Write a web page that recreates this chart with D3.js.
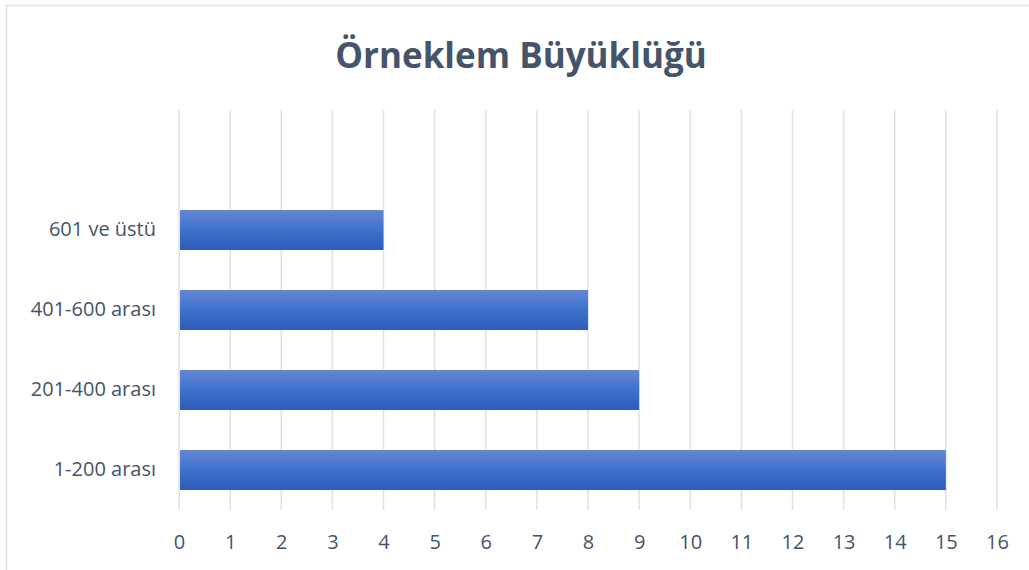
<!DOCTYPE html>
<html>
<head>
<meta charset="utf-8">
<title>Örneklem Büyüklüğü</title>
<script src="https://d3js.org/d3.v7.min.js"></script>
<style>
body { margin:0; background:#fff; font-family:'Open Sans', sans-serif; }
</style>
</head>
<body>
<svg id="chart" width="1029" height="570"></svg>
<script>
// data
var categories = ["1-200 arası", "201-400 arası", "401-600 arası", "601 ve üstü"];
var values = [15, 9, 8, 4];
var tickValues = d3.range(0, 17);

var svg = d3.select("#chart");

// chart frame
svg.append("rect")
  .attr("x", 6.5).attr("y", 5.5)
  .attr("width", 1040).attr("height", 580)
  .attr("fill", "#fff")
  .attr("stroke", "#dde1e8").attr("stroke-width", 1.5);

var defs = svg.append("defs");
var grad = defs.append("linearGradient")
  .attr("id", "barGrad").attr("x1", 0).attr("y1", 0).attr("x2", 0).attr("y2", 1);
grad.append("stop").attr("offset", "0%").attr("stop-color", "#6488d3");
grad.append("stop").attr("offset", "50%").attr("stop-color", "#3f70cc");
grad.append("stop").attr("offset", "100%").attr("stop-color", "#2d5dbb");

var x = d3.scaleLinear().domain([0, 16]).range([179, 997]);
var y = d3.scaleBand().domain(categories).range([510, 190])
  .paddingInner(0.5).paddingOuter(0.25);

var gridTop = 110, gridBottom = 510;

// vertical gridlines
svg.append("g").selectAll("line")
  .data(tickValues)
  .enter().append("line")
    .attr("x1", function(d) { return x(d); })
    .attr("x2", function(d) { return x(d); })
    .attr("y1", gridTop).attr("y2", gridBottom)
    .attr("stroke", "#dfe2e8").attr("stroke-width", 1.5);

// bars
svg.append("g").selectAll("rect")
  .data(values)
  .enter().append("rect")
    .attr("x", x(0) + 1)
    .attr("y", function(d, i) { return y(categories[i]); })
    .attr("width", function(d) { return x(d) - x(0) - 1; })
    .attr("height", y.bandwidth())
    .attr("fill", "url(#barGrad)");

// x axis labels
var xAxis = d3.axisBottom(x).tickValues(tickValues).tickSize(0).tickPadding(0);
var gx = svg.append("g").attr("transform", "translate(0," + 535 + ")").call(xAxis);
gx.select(".domain").remove();
gx.selectAll("text")
  .attr("dy", "0.71em")
  .style("font-family", "'Open Sans', sans-serif")
  .style("font-size", "20px")
  .attr("fill", "#44546a");

// y axis labels
var yAxis = d3.axisLeft(y).tickSize(0).tickPadding(0);
var gy = svg.append("g").attr("transform", "translate(156,0)").call(yAxis);
gy.select(".domain").remove();
gy.selectAll("text")
  .style("font-family", "'Open Sans', sans-serif")
  .style("font-size", "20px")
  .attr("fill", "#44546a");

// title
svg.append("text")
  .attr("x", 521).attr("y", 68)
  .attr("text-anchor", "middle")
  .style("font-family", "'Open Sans', sans-serif")
  .style("font-weight", "bold")
  .style("font-size", "35px")
  .attr("fill", "#44546a")
  .text("Örneklem Büyüklüğü");
</script>
</body>
</html>
